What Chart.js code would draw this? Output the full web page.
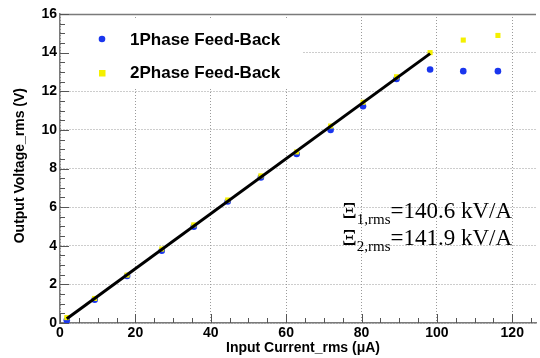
<!DOCTYPE html>
<html>
<head>
<meta charset="utf-8">
<script src="https://cdn.jsdelivr.net/npm/chart.js@4.4.1/dist/chart.umd.min.js"></script>
<style>
html,body{margin:0;padding:0;background:#fff;}
#wrap{width:540px;height:358px;position:relative;}
</style>
</head>
<body>
<div id="wrap"><canvas id="c" width="540" height="358"></canvas></div>
<script>
// ---- data ----
const currentX = [1.8, 9.2, 17.8, 27.0, 35.5, 44.5, 53.3, 62.8, 71.8, 80.4, 89.3, 98.2, 107.0, 116.2];
const phase1V  = [0.14, 1.21, 2.43, 3.74, 4.99, 6.29, 7.54, 8.75, 10.0, 11.22, 12.64, 13.13, 13.04, 13.04];
const phase2V  = [0.28, 1.27, 2.48, 3.83, 5.08, 6.37, 7.62, 8.86, 10.2, 11.43, 12.75, 14.0, 14.65, 14.89];
const fitX = [1.8, 98.2];
const fitY = [0.22, 13.95];
const xTicks = [0, 20, 40, 60, 80, 100, 120];
const yTicks = [0, 2, 4, 6, 8, 10, 12, 14, 16];
const seriesNames = ['1Phase Feed-Back', '2Phase Feed-Back'];
const annot = [['Ξ', '1,rms', '=140.6 kV/A'], ['Ξ', '2,rms', '=141.9 kV/A']];
const xTitle = 'Input Current_rms (μA)';
const yTitle = 'Output Voltage_rms (V)';

const BLUE = '#1a36ee';
const YELLOW = '#f4f000';
const AXIS = '#7a7a7a';
const GRID = '#9a9a9a';

const pts = (xs, ys) => xs.map((x, i) => ({x, y: ys[i]}));

const decor = {
  id: 'decor',
  beforeDatasetsDraw(chart) {
    const {ctx, chartArea: a, scales: {x, y}} = chart;
    ctx.save();
    // legend background box
    ctx.fillStyle = '#fff';
    ctx.fillRect(a.left + 1, a.top + 6, 242, 68);
    // top frame line
    ctx.strokeStyle = AXIS;
    ctx.lineWidth = 1.5;
    ctx.beginPath();
    ctx.moveTo(a.left, a.top + 0.5);
    ctx.lineTo(a.right, a.top + 0.5);
    ctx.stroke();
    // inward ticks
    ctx.strokeStyle = '#555';
    ctx.lineWidth = 1;
    ctx.beginPath();
    for (let v = x.min; v <= x.max + 1e-9; v += 5) {
      const px = Math.round(x.getPixelForValue(v)) + 0.5;
      const len = (Math.abs(v % 20) < 1e-6) ? 9 : 5;
      ctx.moveTo(px, a.bottom);
      ctx.lineTo(px, a.bottom - len);
    }
    for (let v = y.min; v <= y.max + 1e-9; v += 0.5) {
      const py = Math.round(y.getPixelForValue(v)) + 0.5;
      const len = (Math.abs(v % 2) < 1e-6) ? 9 : 5;
      ctx.moveTo(a.left, py);
      ctx.lineTo(a.left + len, py);
    }
    ctx.stroke();
    ctx.restore();
  },
  afterDatasetsDraw(chart) {
    const {ctx, chartArea: a} = chart;
    ctx.save();
    // legend
    ctx.fillStyle = BLUE;
    ctx.beginPath();
    ctx.arc(a.left + 42, a.top + 25, 3.3, 0, Math.PI * 2);
    ctx.fill();
    ctx.fillStyle = YELLOW;
    ctx.fillRect(a.left + 39, a.top + 56, 6.5, 6.5);
    ctx.fillStyle = '#000';
    ctx.font = 'bold 17px "Liberation Sans", Arial, sans-serif';
    ctx.textBaseline = 'alphabetic';
    ctx.textAlign = 'left';
    ctx.fillText(seriesNames[0], a.left + 70, a.top + 31);
    ctx.fillText(seriesNames[1], a.left + 70, a.top + 64);

    // annotation text
    const base = [218, 245];
    annot.forEach((line, i) => {
      let xx = 342;
      ctx.font = '23px "Liberation Serif", "Times New Roman", serif';
      ctx.fillText(line[0], xx, base[i]);
      xx += ctx.measureText(line[0]).width;
      ctx.font = '15px "Liberation Serif", "Times New Roman", serif';
      ctx.fillText(line[1], xx, base[i] + 6);
      xx += ctx.measureText(line[1]).width;
      ctx.font = '23px "Liberation Serif", "Times New Roman", serif';
      ctx.fillText(line[2], xx, base[i]);
    });

    // axis titles
    ctx.font = 'bold 14px "Liberation Sans", Arial, sans-serif';
    ctx.textAlign = 'right';
    ctx.fillText(xTitle, 380, 352);
    ctx.save();
    ctx.translate(24, 88);
    ctx.rotate(-Math.PI / 2);
    ctx.textAlign = 'right';
    ctx.fillText(yTitle, 0, 0);
    ctx.restore();
    ctx.restore();
  }
};

new Chart(document.getElementById('c'), {
  type: 'scatter',
  data: {
    datasets: [
      {
        label: 'fit',
        data: pts(fitX, fitY),
        showLine: true,
        borderColor: '#000',
        borderWidth: 3,
        pointRadius: 0,
        order: 0
      },
      {
        label: seriesNames[1],
        data: pts(currentX, phase2V),
        pointStyle: 'rect',
        pointRadius: 3.6,
        backgroundColor: YELLOW,
        borderColor: YELLOW,
        borderWidth: 0,
        order: 1
      },
      {
        label: seriesNames[0],
        data: pts(currentX, phase1V),
        pointStyle: 'circle',
        pointRadius: 3.3,
        backgroundColor: BLUE,
        borderColor: BLUE,
        borderWidth: 0,
        order: 2
      }
    ]
  },
  options: {
    responsive: false,
    animation: false,
    devicePixelRatio: 1,
    layout: {padding: {top: 14, right: 0, left: 0, bottom: 0}},
    plugins: {legend: {display: false}, tooltip: {enabled: false}},
    scales: {
      x: {
        type: 'linear',
        min: 0,
        max: 126.3,
        afterFit(s) { s.height = 35; },
        afterBuildTicks(s) { s.ticks = xTicks.map(v => ({value: v})); },
        ticks: {
          padding: 2,
          color: '#000',
          font: {family: '"Liberation Sans", Arial, sans-serif', size: 14, weight: 'bold'},
          maxRotation: 0
        },
        grid: {color: GRID, lineWidth: 1, drawTicks: false, tickLength: 0},
        border: {display: true, color: AXIS, width: 1.5, dash: [1, 2]},
      },
      y: {
        type: 'linear',
        min: 0,
        max: 16,
        afterFit(s) { s.width = 60; },
        afterBuildTicks(s) { s.ticks = yTicks.map(v => ({value: v})); },
        ticks: {
          padding: 3,
          color: '#000',
          font: {family: '"Liberation Sans", Arial, sans-serif', size: 14, weight: 'bold'}
        },
        grid: {color: GRID, lineWidth: 1, drawTicks: false, tickLength: 0},
        border: {display: true, color: AXIS, width: 1.5, dash: [1, 2]}
      }
    }
  },
  plugins: [decor]
});
</script>
</body>
</html>
